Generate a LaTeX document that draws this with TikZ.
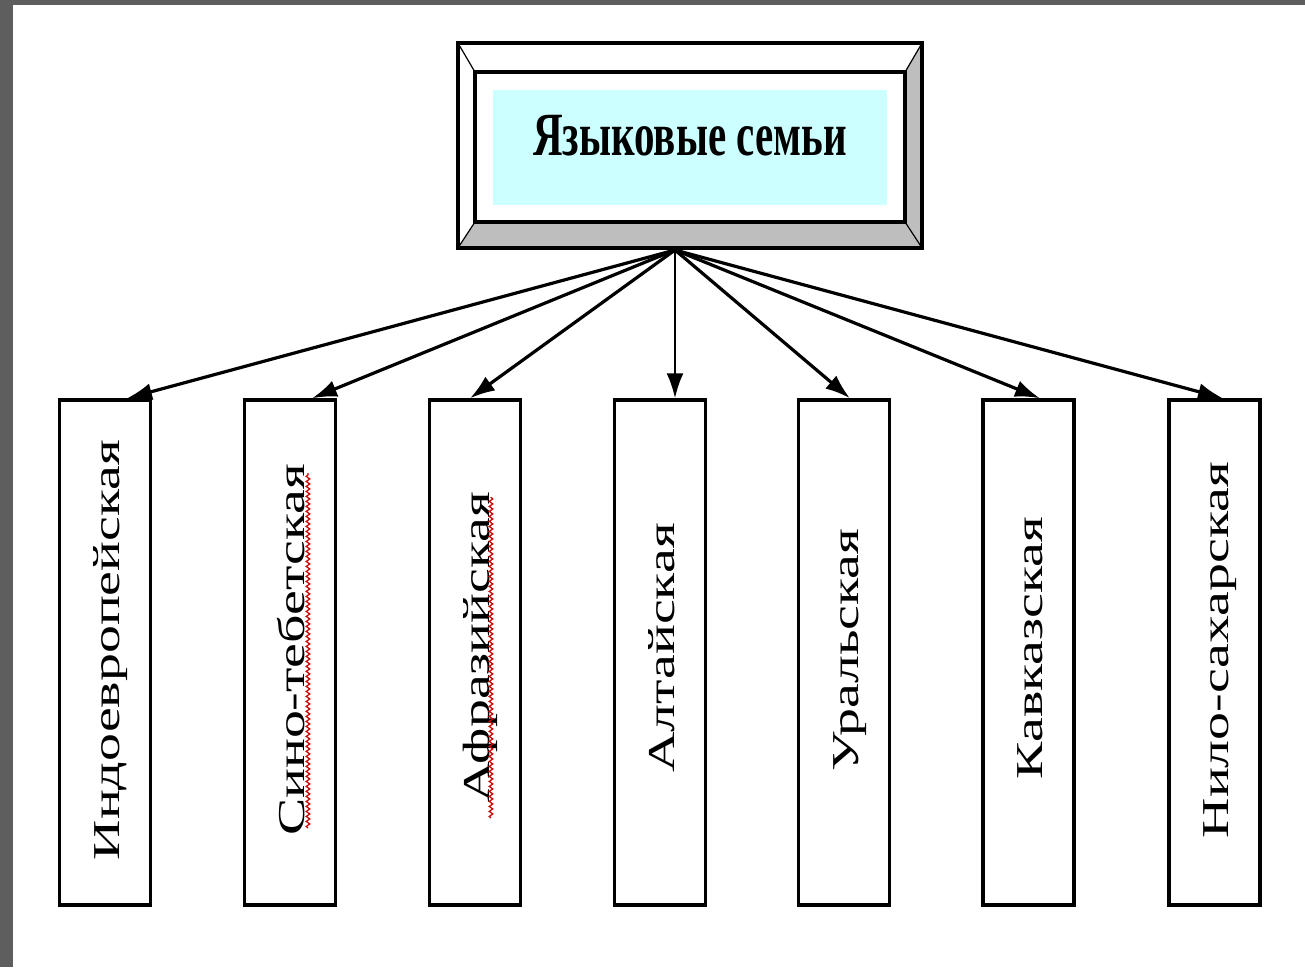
\documentclass[tikz,border=0pt]{standalone}
\usepackage{fontspec}
\setmainfont{Liberation Serif}
\usetikzlibrary{arrows.meta,decorations.pathmorphing}
\definecolor{paleCyan}{RGB}{204,255,255}
\definecolor{bevelGray}{RGB}{190,190,190}
\definecolor{frameGray}{RGB}{94,94,94}
\tikzset{
  leaf/.style={draw, line width=3.4pt, fill=white, minimum width=91pt, minimum height=505pt, inner sep=0pt},
  vlabel/.style={rotate=90, anchor=base, inner sep=0pt},
  conn/.style={line width=3.2pt, -{Latex[length=25pt,width=17pt]}},
  wavy/.style={red!80!black, line width=1.2pt, decorate, decoration={snake, amplitude=1.8pt, segment length=5pt}}
}
\newcommand{\vtext}[1]{\scalebox{1.47}[1]{\fontsize{38}{38}\selectfont #1}}
\begin{document}
\begin{tikzpicture}[x=1pt,y=-1pt]
\useasboundingbox (0,0) rectangle (1305,967);
\fill[white] (0,0) rectangle (1305,967);
\fill[frameGray] (0,0) rectangle (13,967);
\fill[frameGray] (0,0) rectangle (1305,5);

% top bevelled box
\node[fill=white, minimum width=464pt, minimum height=205pt, inner sep=0pt] (top) at (690,145.5) {};
\node[minimum width=430pt, minimum height=150pt, inner sep=0pt] (in) at (690,147) {};
\fill[bevelGray] (top.north east) -- (top.south east) -- (in.south east) -- (in.north east) -- cycle;
\fill[bevelGray] (top.south west) -- (top.south east) -- (in.south east) -- (in.south west) -- cycle;
\draw[line width=1.2pt] (top.north west) -- (in.north west)
  (top.north east) -- (in.north east)
  (top.south west) -- (in.south west)
  (top.south east) -- (in.south east);
\node[draw, line width=3.4pt, fill=white, minimum width=430pt, minimum height=150pt, inner sep=0pt] (inner) at (690,147) {};
\node[fill=paleCyan, minimum width=394pt, minimum height=115pt, inner sep=0pt] (cy) at (690,147.5) {};
\node[draw, line width=3.6pt, minimum width=464pt, minimum height=205pt, inner sep=0pt] (frame) at (690,145.5) {};
\node[anchor=base, inner sep=0pt] (title) at (690,155) {\scalebox{1}[1.5]{\fontsize{41}{41}\selectfont\bfseries Языковые семьи}};

% leaf boxes
\node[leaf] (b1) at (105,652.5) {};
\node[leaf] (b2) at (290,652.5) {};
\node[leaf] (b3) at (475,652.5) {};
\node[leaf] (b4) at (660,652.5) {};
\node[leaf] (b5) at (844,652.5) {};
\node[leaf] (b6) at (1028.5,652.5) {};
\node[leaf] (b7) at (1214.5,652.5) {};

\node[vlabel] (t1) at (119,650) {\vtext{Индоевропейская}};
\node[vlabel] (t2) at (304,650) {\vtext{Сино-тебетская}};
\node[vlabel] (t3) at (489,647) {\vtext{Афразийская}};
\node[vlabel] (t4) at (674,648) {\vtext{Алтайская}};
\node[vlabel] (t5) at (858,650) {\vtext{Уральская}};
\node[vlabel] (t6) at (1042,648) {\vtext{Кавказская}};
\node[vlabel] (t7) at (1228,650) {\vtext{Нило-сахарская}};

\draw[wavy] (308,828) -- (308,473);
\draw[wavy] (491,818) -- (491,497);

% connectors
\coordinate (src) at (675,250);
\draw[conn] (src) -- ([xshift=22pt]b1.north);
\draw[conn] (src) -- ([xshift=22pt]b2.north);
\draw[conn] (src) -- ([xshift=-5pt]b3.north);
\draw[conn, line width=2.4pt] (src) -- ([xshift=15pt]b4.north);
\draw[conn] (src) -- ([xshift=6pt]b5.north);
\draw[conn] (src) -- ([xshift=11.5pt]b6.north);
\draw[conn] (src) -- ([xshift=8.5pt]b7.north);
\end{tikzpicture}
\end{document}
